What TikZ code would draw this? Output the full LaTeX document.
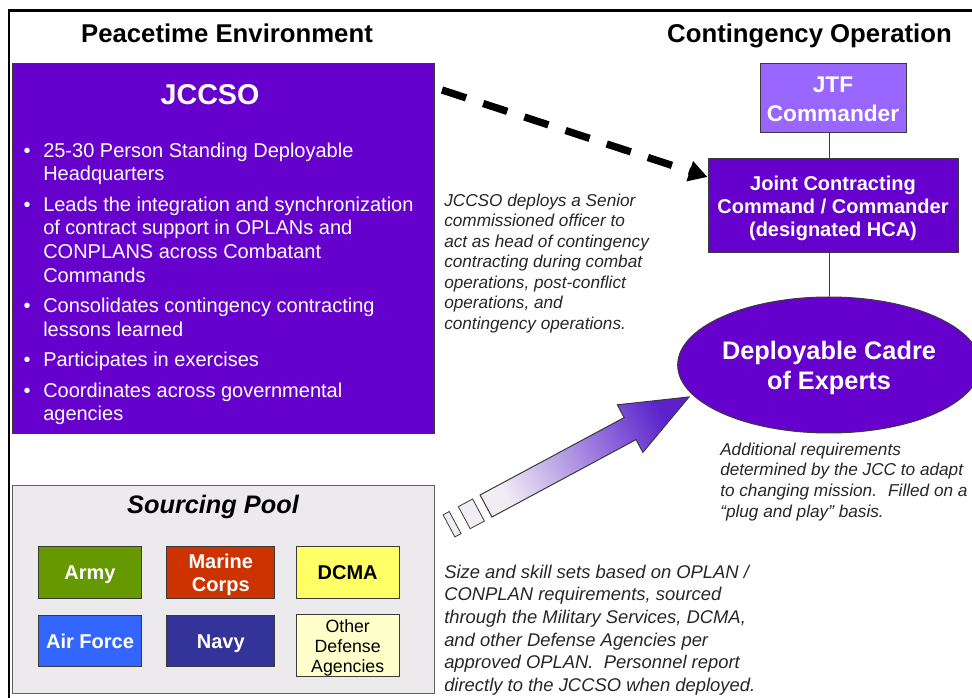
\documentclass[tikz,border=0pt]{standalone}
\usepackage{fontspec}
\setmainfont{Liberation Sans}
\usetikzlibrary{arrows.meta,shapes.geometric,calc}

\definecolor{jpurple}{HTML}{6600CC}
\definecolor{jtfpurple}{HTML}{9966FF}
\definecolor{armyg}{HTML}{669900}
\definecolor{marinered}{HTML}{CC3300}
\definecolor{dcmay}{HTML}{FFFF66}
\definecolor{afblue}{HTML}{3366FF}
\definecolor{navyb}{HTML}{333399}
\definecolor{otherY}{HTML}{FFFFCC}
\definecolor{poolbg}{HTML}{EDEAEE}
\definecolor{edge}{HTML}{3A3A3A}
\definecolor{note}{HTML}{262626}
\definecolor{arrowtail}{HTML}{F1EDF5}
\definecolor{arrowtip}{HTML}{5B22CC}

\newcommand\tstrut{\rule{0pt}{1em}}
\newcommand\bstrut{\rule[-0.25em]{0pt}{0.25em}}
\newcommand\fsz[2]{\fontsize{#1}{#2}\selectfont}
\newcommand\bul{\llap{\textbullet\hspace{9.4pt}}}

\begin{document}
\begin{tikzpicture}[x=0.75pt,y=-0.75pt,
  boxed/.style={draw=edge, line width=0.75pt, inner sep=0pt, align=center},
  headline/.style={anchor=base, font=\bfseries\fsz{19.3pt}{23pt}, inner sep=0pt},
  notetext/.style={anchor=north west, inner sep=0pt, align=left, text=note},
  unitbox/.style={boxed, minimum height=38.7pt, font=\bfseries\fsz{15pt}{17.25pt}, text=white}
]
\useasboundingbox (0,0) rectangle (972,698);

% outer frame
\draw[line width=1.8pt] (9,710) -- (9,10.5) -- (985,10.5);

% headings
\node[headline] (hpeace) at (227,42.5) {Peacetime Environment};
\node[headline] (hcont) at (809.5,42.5) {Contingency Operation};

% JCCSO box
\node[boxed, fill=jpurple, minimum width=316.5pt, minimum height=277.5pt] (jccso) at (223,249) {};
\node[anchor=base, inner sep=0pt, text=white, font=\bfseries\fsz{21.5pt}{26pt}] (jccsotitle) at (210,105) {JCCSO};
\node[anchor=north west, inner sep=0pt, align=left, text=white, font=\fsz{15pt}{17.7pt}] (bullets) at (43,137)
{\tstrut\bul 25-30 Person Standing Deployable\\Headquarters\\[5.2pt]\bul Leads the integration and synchronization\\of contract support in OPLANs and\\CONPLANS across Combatant\\Commands\\[5.2pt]\bul Consolidates contingency contracting\\lessons learned\\[5.2pt]\bul Participates in exercises\\[5.2pt]\bul Coordinates across governmental\\agencies};

% Sourcing pool
\node[boxed, fill=poolbg, draw=edge!80, minimum width=316.5pt, minimum height=155.25pt] (pool) at (223,589.5) {};
\node[anchor=base, inner sep=0pt, font=\bfseries\itshape\fsz{19pt}{23pt}] (pooltitle) at (213,514) {Sourcing Pool};
\node[unitbox, fill=armyg, minimum width=77.5pt] (army) at (90,572.5) {\tstrut Army\bstrut};
\node[unitbox, fill=marinered, minimum width=81.2pt] (marine) at (220.8,572.5) {\tstrut Marine\\Corps\bstrut};
\node[unitbox, fill=dcmay, minimum width=77.5pt, text=black] (dcma) at (347.7,572.5) {\tstrut DCMA\bstrut};
\node[unitbox, fill=afblue, minimum width=77.5pt] (airforce) at (90,641) {\tstrut Air Force\bstrut};
\node[unitbox, fill=navyb, minimum width=81.2pt] (navy) at (220.8,641) {\tstrut Navy\bstrut};
\node[boxed, fill=otherY, minimum width=77.5pt, minimum height=45.75pt, text=black, font=\fsz{13.3pt}{15pt}] (other) at (347.7,645.5) {\tstrut Other\\Defense\\Agencies\bstrut};

% contingency side
\node[boxed, fill=jtfpurple, minimum width=109.5pt, minimum height=51.75pt, text=white, font=\bfseries\fsz{17pt}{21.75pt}] (jtf) at (833,98.5) {\tstrut JTF\\Commander\bstrut};
\node[boxed, fill=jpurple, minimum width=187.5pt, minimum height=70.5pt, text=white, font=\bfseries\fsz{15pt}{17.6pt}] (jcc) at (833,206) {\tstrut Joint Contracting\\Command / Commander\\(designated HCA)\bstrut};
\node[boxed, ellipse, fill=jpurple, minimum width=219pt, minimum height=102pt, text=white, font=\bfseries\fsz{19pt}{22.5pt}] (dc) at (829,365) {\tstrut Deployable Cadre\\of Experts\bstrut};

\draw[edge, line width=0.75pt] (jtf.south -| dc.north) -- (jcc.north -| dc.north);
\draw[edge, line width=0.75pt] (jcc.south -| dc.north) -- (dc.north);

% dashed arrow
\coordinate (dstart) at (442,90);
\draw[line width=5.5pt, dash pattern=on 19pt off 13.5pt, -{Triangle[length=14pt,width=15pt]}] (dstart) -- (jcc.167.4);

% notes
\node[notetext, font=\itshape\fsz{12.9pt}{15.4pt}] (note1) at (444,188.8)
{\tstrut JCCSO deploys a Senior\\commissioned officer to\\act as head of contingency\\contracting during combat\\operations, post-conflict\\operations, and\\contingency operations.};
\node[notetext, font=\itshape\fsz{12.9pt}{15.5pt}] (note2) at (720,437.8)
{\tstrut Additional requirements\\determined by the JCC to adapt\\to changing mission.~ Filled on a\\“plug and play” basis.};
\node[notetext, font=\itshape\fsz{13.8pt}{16.95pt}] (note3) at (444,559.6)
{\tstrut Size and skill sets based on OPLAN /\\CONPLAN requirements, sourced\\through the Military Services, DCMA,\\and other Defense Agencies per\\approved OPLAN.~ Personnel report\\directly to the JCCSO when deployed.};

% gradient arrow from pool to cadre
\begin{scope}[shift={(486,506)}, x={(0.661pt,0.355pt)}, y={(0.355pt,-0.661pt)}]
  \draw[draw=edge, line width=0.75pt, left color=arrowtail, right color=arrowtip, shading angle=118.2]
    (0,-12.5) -- (163.5,-12.5) -- (163.5,-27) -- (230.4,0) -- (163.5,27) -- (163.5,12.5) -- (0,12.5) -- cycle;
  \draw[draw=edge, line width=0.6pt, fill=arrowtail] (-24.7,-12.5) -- (-8.5,-12.5) -- (-8.5,12.5) -- (-24.7,12.5) -- cycle;
  \draw[draw=edge, line width=0.6pt, fill=arrowtail] (-42,-12.5) -- (-35,-12.5) -- (-35,12.5) -- (-42,12.5) -- cycle;
\end{scope}
\end{tikzpicture}
\end{document}
